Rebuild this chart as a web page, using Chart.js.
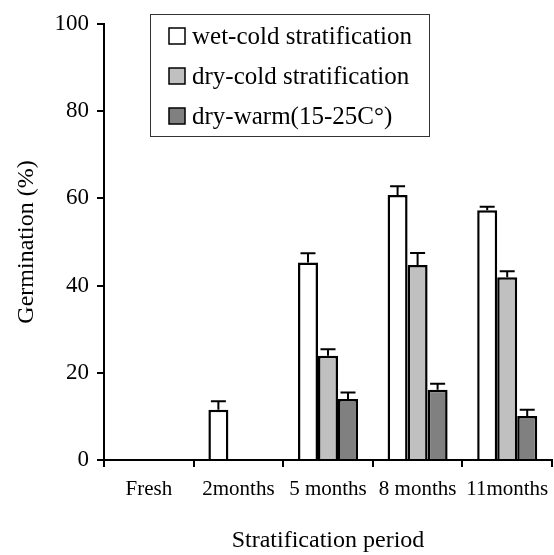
<!DOCTYPE html>
<html>
<head>
<meta charset="utf-8">
<script src="https://cdn.jsdelivr.net/npm/chart.js@4/dist/chart.umd.min.js"></script>
<style>
  html, body { margin: 0; padding: 0; background: #fff; }
  #wrap { width: 554px; height: 555px; position: relative; }
</style>
</head>
<body>
<div id="wrap"><canvas id="chart-germ"></canvas></div>
<script>
const periods = ['Fresh', '2months', '5 months', '8 months', '11months'];
const seriesNames = ['wet-cold stratification', 'dry-cold stratification', 'dry-warm(15-25C\u00b0)'];
const wetCold = [0, 11.5, 45.3, 60.8, 57.3];
const wetColdErr = [0, 2.0, 2.1, 2.0, 0.8];
const dryCold = [0, 0, 23.9, 44.7, 41.9];
const dryColdErr = [0, 0, 1.5, 2.8, 1.4];
const dryWarm = [0, 0, 14.0, 16.1, 10.1];
const dryWarmErr = [0, 0, 1.5, 1.4, 1.4];
const yTicks = [0, 20, 40, 60, 80, 100];

const serif = "'Liberation Serif', 'Times New Roman', serif";

// error bars on top of each bar
const errorBars = {
  id: 'errorBars',
  afterDatasetsDraw(chart) {
    const { ctx, scales: { y } } = chart;
    ctx.save();
    ctx.strokeStyle = '#000';
    ctx.lineWidth = 2;
    chart.data.datasets.forEach((ds, i) => {
      const meta = chart.getDatasetMeta(i);
      meta.data.forEach((bar, j) => {
        const e = ds.errors[j];
        if (!e) return;
        const yTop = y.getPixelForValue(ds.data[j] + e);
        ctx.beginPath();
        ctx.moveTo(bar.x, bar.y);
        ctx.lineTo(bar.x, yTop);
        ctx.moveTo(bar.x - 7.5, yTop);
        ctx.lineTo(bar.x + 7.5, yTop);
        ctx.stroke();
      });
    });
    ctx.restore();
  }
};

// boxed legend inside the plot
const boxLegend = {
  id: 'boxLegend',
  afterDraw(chart) {
    const { ctx, chartArea } = chart;
    const x0 = chartArea.left + 46, y0 = chartArea.top - 10;
    ctx.save();
    ctx.fillStyle = '#fff';
    ctx.fillRect(x0, y0, 279, 122);
    ctx.strokeStyle = '#333';
    ctx.lineWidth = 1;
    ctx.strokeRect(x0 + 0.5, y0 + 0.5, 279, 122);
    ctx.font = '25px ' + serif;
    ctx.textBaseline = 'middle';
    chart.data.datasets.forEach((ds, i) => {
      const cy = y0 + 22 + i * 40;
      ctx.fillStyle = ds.backgroundColor;
      ctx.fillRect(x0 + 19, cy - 8, 16, 16);
      ctx.strokeStyle = '#000';
      ctx.lineWidth = 1.5;
      ctx.strokeRect(x0 + 19, cy - 8, 16, 16);
      ctx.fillStyle = '#000';
      ctx.fillText(ds.label, x0 + 42, cy + 1);
    });
    ctx.restore();
  }
};

const barStyle = { borderColor: '#000', borderWidth: 2.5, categoryPercentage: 0.67, barPercentage: 1.0 };

new Chart(document.getElementById('chart-germ'), {
  type: 'bar',
  data: {
    labels: periods,
    datasets: [
      { label: seriesNames[0], data: wetCold, errors: wetColdErr, backgroundColor: '#ffffff', ...barStyle },
      { label: seriesNames[1], data: dryCold, errors: dryColdErr, backgroundColor: '#c0c0c0', ...barStyle },
      { label: seriesNames[2], data: dryWarm, errors: dryWarmErr, backgroundColor: '#808080', ...barStyle },
    ]
  },
  options: {
    responsive: true,
    maintainAspectRatio: false,
    animation: false,
    layout: { padding: { top: 24, right: 2, left: 0, bottom: 0 } },
    plugins: { legend: { display: false }, tooltip: { enabled: false } },
    scales: {
      x: {
        grid: { offset: true, drawOnChartArea: false, color: '#000', lineWidth: 2, tickLength: 7 },
        border: { color: '#000', width: 2 },
        ticks: { color: '#000', font: { size: 21, family: serif }, padding: 10, maxRotation: 0, autoSkip: false },
        title: { display: true, text: 'Stratification period', color: '#000', font: { size: 24, family: serif }, padding: { top: 0, bottom: 0 } },
        afterFit(s) { s.height = 95; s.paddingLeft = 0; s.paddingRight = 0; }
      },
      y: {
        min: 0, max: 100,
        afterBuildTicks(s) { s.ticks = yTicks.map(v => ({ value: v })); },
        grid: { drawOnChartArea: false, color: '#000', lineWidth: 2, tickLength: 7 },
        border: { color: '#000', width: 2 },
        ticks: { color: '#000', font: { size: 23, family: serif }, padding: 8 },
        title: { display: true, text: 'Germination (%)', color: '#000', font: { size: 24, family: serif }, padding: { top: 12, bottom: 0 } },
        afterFit(s) { s.width = 104; s.paddingTop = 0; s.paddingBottom = 0; }
      }
    }
  },
  plugins: [errorBars, boxLegend]
});
</script>
</body>
</html>
